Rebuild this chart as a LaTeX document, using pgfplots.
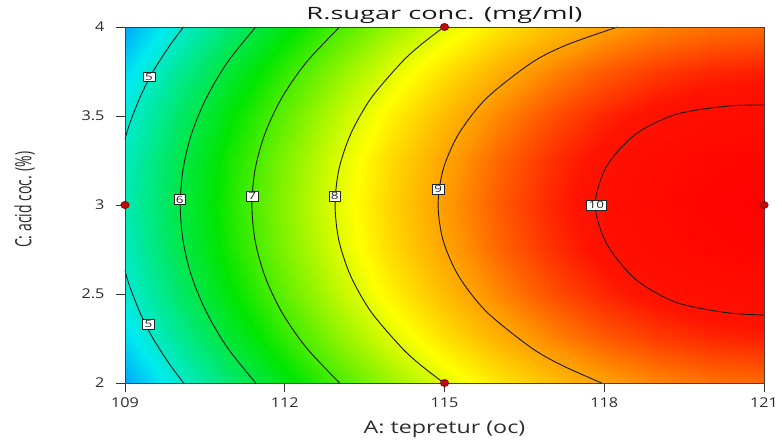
\documentclass[border=0pt]{standalone}
\usepackage{graphicx}
\usepackage{pgfplots}
\pgfplotsset{compat=1.18}
\usepackage{fontspec}
\setmainfont{Open Sans}
\definecolor{dotred}{RGB}{190,10,10}
\definecolor{dotedge}{RGB}{110,0,0}
\definecolor{txt}{RGB}{45,45,45}
\begin{document}
\begin{tikzpicture}[x=1pt,y=1pt]
\path[use as bounding box] (0,0) rectangle (782,443);
\begin{axis}[
  at={(125pt,60pt)}, anchor=south west,
  scale only axis, width=639pt, height=356pt,
  xmin=109, xmax=121, ymin=2, ymax=4,
  view={0}{90},
  xtick={109,112,115,118,121}, ytick={2,2.5,3,3.5,4},
  xticklabels={\scalebox{1.2}[1]{109},\scalebox{1.2}[1]{112},\scalebox{1.2}[1]{115},\scalebox{1.2}[1]{118},\scalebox{1.2}[1]{121}},
  yticklabels={\scalebox{1.2}[1]{2},\scalebox{1.2}[1]{2.5},\scalebox{1.2}[1]{3},\scalebox{1.2}[1]{3.5},\scalebox{1.2}[1]{4}},
  tick align=outside, tick pos=left, major tick length=9pt,
  tick label style={font=\fontsize{13.5}{15}\selectfont, text=txt},
  xticklabel style={yshift=-2pt},
  yticklabel style={xshift=-8pt},
  axis line style={black!75, line width=0.7pt},
  tick style={black!80, line width=0.7pt},
  clip=false,
  colormap={rsm}{rgb255(0)=(0,90,255); rgb255(13)=(0,235,240); rgb255(31)=(0,230,0); rgb255(48)=(255,255,0); rgb255(57)=(255,150,0); rgb255(65)=(255,20,0); rgb255(71)=(255,0,0)},
  point meta min=3.4, point meta max=10.5,
  title={\scalebox{1.6}[1]{R.sugar conc. (mg/ml)}},
  title style={font=\fontsize{17}{19}\selectfont, text=black!90, at={(axis description cs:0.5,1.004)}, anchor=base, inner sep=0pt},
  xlabel={\scalebox{1.33}[1]{A: tepretur (oc)}},
  xlabel style={font=\fontsize{17.5}{19}\selectfont, text=txt, at={(axis description cs:0.5,-0.13)}, anchor=center},
  ylabel={\scalebox{1}[1.6]{C: acid coc. (\%)}},
  ylabel style={font=\fontsize{14}{16}\selectfont, text=txt, at={(axis description cs:-0.157,0.515)}, anchor=center, rotate=0},
]
\addplot3[surf, shader=interp, mesh/rows=9, mesh/cols=13] table {
x y z
109 2 4.093
110 2 4.921
111 2 5.679
112 2 6.366
113 2 6.982
114 2 7.528
115 2 8.003
116 2 8.408
117 2 8.742
118 2 9.006
119 2 9.199
120 2 9.321
121 2 9.373
109 2.25 4.552
110 2.25 5.380
111 2.25 6.138
112 2.25 6.825
113 2.25 7.441
114 2.25 7.987
115 2.25 8.462
116 2.25 8.867
117 2.25 9.201
118 2.25 9.465
119 2.25 9.658
120 2.25 9.780
121 2.25 9.832
109 2.5 4.880
110 2.5 5.708
111 2.5 6.466
112 2.5 7.153
113 2.5 7.769
114 2.5 8.315
115 2.5 8.790
116 2.5 9.195
117 2.5 9.529
118 2.5 9.793
119 2.5 9.986
120 2.5 10.108
121 2.5 10.160
109 2.75 5.077
110 2.75 5.905
111 2.75 6.663
112 2.75 7.350
113 2.75 7.966
114 2.75 8.512
115 2.75 8.987
116 2.75 9.392
117 2.75 9.726
118 2.75 9.990
119 2.75 10.183
120 2.75 10.305
121 2.75 10.357
109 3 5.143
110 3 5.971
111 3 6.729
112 3 7.416
113 3 8.032
114 3 8.578
115 3 9.053
116 3 9.458
117 3 9.792
118 3 10.056
119 3 10.249
120 3 10.371
121 3 10.423
109 3.25 5.077
110 3.25 5.905
111 3.25 6.663
112 3.25 7.350
113 3.25 7.966
114 3.25 8.512
115 3.25 8.987
116 3.25 9.392
117 3.25 9.726
118 3.25 9.990
119 3.25 10.183
120 3.25 10.305
121 3.25 10.357
109 3.5 4.880
110 3.5 5.708
111 3.5 6.466
112 3.5 7.153
113 3.5 7.769
114 3.5 8.315
115 3.5 8.790
116 3.5 9.195
117 3.5 9.529
118 3.5 9.793
119 3.5 9.986
120 3.5 10.108
121 3.5 10.160
109 3.75 4.552
110 3.75 5.380
111 3.75 6.138
112 3.75 6.825
113 3.75 7.441
114 3.75 7.987
115 3.75 8.462
116 3.75 8.867
117 3.75 9.201
118 3.75 9.465
119 3.75 9.658
120 3.75 9.780
121 3.75 9.832
109 4 4.093
110 4 4.921
111 4 5.679
112 4 6.366
113 4 6.982
114 4 7.528
115 4 8.003
116 4 8.408
117 4 8.742
118 4 9.006
119 4 9.199
120 4 9.321
121 4 9.373
};
% contour lines
\addplot[black!90, line width=0.9pt, smooth] coordinates {(109,3.369) (109.08,3.45) (109.275,3.6) (109.47,3.72) (109.63,3.8) (109.85,3.9) (110.10,4)};
\addplot[black!90, line width=0.9pt, smooth] coordinates {(109,2.631) (109.08,2.55) (109.275,2.4) (109.47,2.28) (109.63,2.2) (109.85,2.1) (110.10,2)};
\addplot[black!90, line width=0.9pt, smooth] coordinates {(111.455,2) (110.92,2.2) (110.526,2.4) (110.25,2.6) (110.09,2.8) (110.037,3) (110.09,3.2) (110.25,3.4) (110.526,3.6) (110.92,3.8) (111.455,4)};
\addplot[black!90, line width=0.9pt, smooth] coordinates {(113.03,2) (112.40,2.2) (111.94,2.4) (111.627,2.6) (111.443,2.8) (111.383,3) (111.443,3.2) (111.627,3.4) (111.94,3.6) (112.40,3.8) (113.03,4)};
\addplot[black!90, line width=0.9pt, smooth] coordinates {(114.99,2) (114.555,2.1) (114.19,2.2) (113.62,2.4) (113.24,2.6) (113.017,2.8) (112.945,3) (113.017,3.2) (113.24,3.4) (113.62,3.6) (114.19,3.8) (114.555,3.9) (114.99,4)};
\addplot[black!90, line width=0.9pt, smooth] coordinates {(117.95,2) (117.20,2.1) (116.62,2.2) (115.79,2.4) (115.267,2.6) (114.975,2.8) (114.88,3) (114.975,3.2) (115.267,3.4) (115.79,3.6) (116.64,3.8) (117.30,3.9) (118.25,4)};
\addplot[black!90, line width=0.9pt, smooth] coordinates {(121,3.562) (120.3,3.555) (119.36,3.51) (118.60,3.40) (118.05,3.22) (117.83,3.0) (118.05,2.78) (118.60,2.58) (119.36,2.452) (120.3,2.395) (121,2.382)};
% contour labels
\begin{scope}[every node/.style={draw=black!85, fill=white, line width=0.6pt, inner xsep=2pt, inner ysep=1.2pt, font=\fontsize{10}{11}\selectfont, text=black!85}]
\node at (axis cs:109.45,3.72) {\scalebox{1.35}[1]{5}};
\node at (axis cs:109.44,2.33) {\scalebox{1.35}[1]{5}};
\node at (axis cs:110.03,3.03) {\scalebox{1.35}[1]{6}};
\node at (axis cs:111.39,3.05) {\scalebox{1.35}[1]{7}};
\node at (axis cs:112.94,3.05) {\scalebox{1.35}[1]{8}};
\node at (axis cs:114.88,3.09) {\scalebox{1.35}[1]{9}};
\node at (axis cs:117.85,3.0) {\scalebox{1.35}[1]{10}};
\end{scope}
% design points
\addplot[only marks, mark=*, mark size=3.6pt, mark options={xscale=1.2, fill=dotred, draw=dotedge, line width=0.5pt}] coordinates {(109,3) (115,2) (115,4) (121,3)};
\end{axis}
\end{tikzpicture}
\end{document}
